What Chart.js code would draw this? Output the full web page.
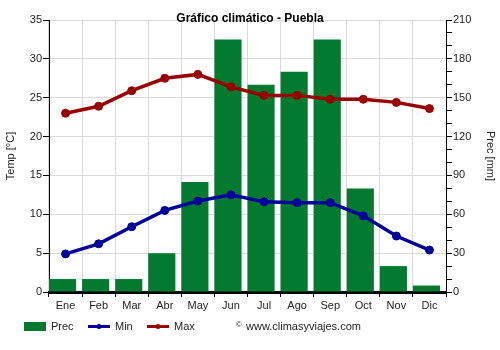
<!DOCTYPE html>
<html>
<head>
<meta charset="utf-8">
<script src="https://cdn.jsdelivr.net/npm/chart.js@4"></script>
<style>
	html, body { margin: 0; padding: 0; background: #fff; }
	#wrap { width: 500px; height: 350px; }
</style>
</head>
<body>
<div id="wrap"><canvas id="myChart" width="500" height="350"></canvas></div>
<script>
// datos
const months = ['Ene', 'Feb', 'Mar', 'Abr', 'May', 'Jun', 'Jul', 'Ago', 'Sep', 'Oct', 'Nov', 'Dic'];
const prec = [10, 10, 10, 30, 85, 195, 160, 170, 195, 80, 20, 5];
const tMin = [4.9, 6.2, 8.4, 10.5, 11.7, 12.5, 11.6, 11.5, 11.5, 9.8, 7.2, 5.4];
const tMax = [23.0, 23.9, 25.9, 27.5, 28.0, 26.4, 25.3, 25.3, 24.8, 24.8, 24.4, 23.6];

const green = '#037a30';
const blue = '#00009a';
const red = '#990000';
const font = 'Arial, "Liberation Sans", sans-serif';

// bars sit at the left of each month slot, like the original
const shiftBars = {
	id: 'shiftBars',
	afterDatasetsUpdate(chart) {
		const x = chart.scales.x;
		const slot = x.getPixelForValue(1) - x.getPixelForValue(0);
		const meta = chart.getDatasetMeta(0);
		for (let el of meta.data) {
			el.x = el.x - (slot - el.width) / 2;
		}
	}
};

// title, legend and credit
const extras = {
	id: 'extras',
	afterDraw(chart) {
		const c = chart.ctx;
		c.save();
		c.fillStyle = '#000';
		c.font = 'bold 12px ' + font;
		c.textAlign = 'center';
		c.textBaseline = 'alphabetic';
		c.fillText('Gráfico climático - Puebla', 250, 22);

		c.font = '11px ' + font;
		c.textAlign = 'left';
		c.textBaseline = 'middle';
		let y = 326.5;

		c.fillStyle = green;
		c.fillRect(24, 322, 22, 9);
		c.fillStyle = '#222';
		c.fillText('Prec', 51, y);

		let items = [[88, blue, 'Min'], [147, red, 'Max']];
		for (let it of items) {
			c.strokeStyle = it[1];
			c.lineWidth = 3;
			c.beginPath();
			c.moveTo(it[0], y);
			c.lineTo(it[0] + 22, y);
			c.stroke();
			c.fillStyle = it[1];
			c.beginPath();
			c.arc(it[0] + 11, y, 2.5, 0, Math.PI * 2);
			c.fill();
			c.fillStyle = '#222';
			c.fillText(it[2], it[0] + 27, y);
		}

		c.font = '8px ' + font;
		c.fillText('©', 236, y - 2);
		c.font = '11px ' + font;
		c.fillText('www.climasyviajes.com', 246, y);
		c.restore();
	}
};

const ctx = document.getElementById('myChart').getContext('2d');
const myChart = new Chart(ctx, {
	type: 'bar',
	data: {
		labels: months,
		datasets: [{
			label: 'Prec',
			data: prec,
			yAxisID: 'y1',
			backgroundColor: green,
			barPercentage: 0.82,
			categoryPercentage: 1,
			order: 3
		},
		{
			type: 'line',
			label: 'Min',
			data: tMin,
			yAxisID: 'y',
			borderColor: blue,
			backgroundColor: blue,
			borderWidth: 3.5,
			pointRadius: 4,
			pointBorderWidth: 1,
			lineTension: 0,
			fill: false,
			order: 1
		},
		{
			type: 'line',
			label: 'Max',
			data: tMax,
			yAxisID: 'y',
			borderColor: red,
			backgroundColor: red,
			borderWidth: 3.5,
			pointRadius: 4,
			pointBorderWidth: 1,
			lineTension: 0,
			fill: false,
			order: 2
		}]
	},
	options: {
		responsive: false,
		animation: false,
		layout: { padding: { top: 20, left: 0, right: 0, bottom: 0 } },
		plugins: {
			legend: { display: false },
			tooltip: { enabled: false }
		},
		scales: {
			x: {
				afterFit: function(s) { s.height = 58; },
				grid: { color: '#d9d9d9', tickColor: '#000', tickLength: 5, offset: true },
				border: { color: '#000', width: 3 },
				ticks: { color: '#222', font: { family: font, size: 11 }, padding: 2, maxRotation: 0 }
			},
			y: {
				position: 'left',
				min: 0,
				max: 35,
				afterFit: function(s) { s.width = 49; },
				grid: { color: '#d9d9d9', tickColor: '#000', tickLength: 6 },
				border: { color: '#000', width: 1 },
				ticks: { stepSize: 5, color: '#222', font: { family: font, size: 11 }, padding: 1 },
				title: { display: true, text: 'Temp [°C]', color: '#222', font: { family: font, size: 11 }, padding: { top: 4, bottom: 0 } }
			},
			y1: {
				position: 'right',
				min: 0,
				max: 210,
				afterFit: function(s) { s.width = 54; },
				grid: { drawOnChartArea: false, tickColor: '#000', tickLength: 6 },
				border: { color: '#000', width: 1 },
				ticks: {
					stepSize: 10,
					autoSkip: false,
					color: '#222',
					font: { family: font, size: 11 },
					padding: 1,
					callback: function(v) { return v % 30 === 0 ? v : ''; }
				},
				title: { display: true, text: 'Prec [mm]', color: '#222', font: { family: font, size: 11 }, padding: { top: 3, bottom: 0 } }
			}
		}
	},
	plugins: [shiftBars, extras]
});
</script>
</body>
</html>
